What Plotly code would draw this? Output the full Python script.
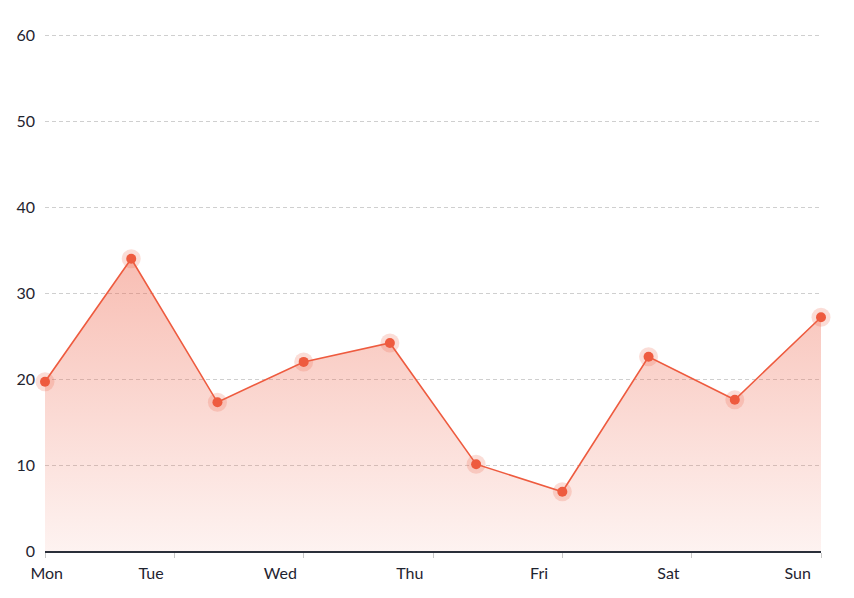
import plotly.graph_objects as go

# data
x_idx = [0, 1, 2, 3, 4, 5, 6, 7, 8, 9]
values = [19.7, 34.0, 17.3, 22.0, 24.2, 10.1, 6.9, 22.6, 17.6, 27.2]
day_labels = ["Mon", "Tue", "Wed", "Thu", "Fri", "Sat", "Sun"]
y_ticks = [0, 10, 20, 30, 40, 50, 60]

LINE = "#EE5B3F"
FONT = "Lato"
TXT = "#1f2430"

n_lab = len(day_labels)
span = x_idx[-1] - x_idx[0]
tick_pos = [x_idx[0] + span * k / (n_lab - 1) for k in range(n_lab)]
shift = 0.27 * span / 9
label_pos = [max(x_idx[0] + 0.02, t - shift) for t in tick_pos]

fig = go.Figure()
fig.add_trace(go.Scatter(
    x=x_idx, y=values, mode="lines", line=dict(color=LINE, width=1.6),
    fill="tozeroy",
    fillgradient=dict(type="vertical", start=0, stop=max(values),
                      colorscale=[[0, "rgba(238,100,75,0.08)"], [1, "rgba(238,100,75,0.42)"]]),
    cliponaxis=False, hoverinfo="skip", showlegend=False))
fig.add_trace(go.Scatter(
    x=x_idx, y=values, mode="markers",
    marker=dict(size=19, color="rgba(238,100,75,0.22)", line=dict(width=0)),
    cliponaxis=False, hoverinfo="skip", showlegend=False))
fig.add_trace(go.Scatter(
    x=x_idx, y=values, mode="markers",
    marker=dict(size=10, color=LINE, line=dict(width=0)),
    cliponaxis=False, showlegend=False))
# invisible trace on the label axis
fig.add_trace(go.Scatter(x=[x_idx[0]], y=[0], xaxis="x2", mode="markers",
                         marker=dict(opacity=0), hoverinfo="skip", showlegend=False))

fig.update_layout(
    width=854, height=598,
    margin=dict(l=37, r=41, t=26, b=55),
    paper_bgcolor="white", plot_bgcolor="white",
    font=dict(family=FONT, size=16, color=TXT),
    xaxis=dict(range=[x_idx[0], x_idx[-1]], tickvals=tick_pos, ticktext=[""] * n_lab,
               ticks="outside", ticklen=5, tickcolor="#c8c8c8", tickwidth=1,
               showgrid=False, zeroline=False, automargin=False,
               showline=True, linecolor="#2a2f3a", linewidth=2),
    xaxis2=dict(overlaying="x", matches="x", anchor="y", side="bottom",
                tickvals=label_pos, ticktext=day_labels, ticks="",
                showgrid=False, zeroline=False, showline=False, automargin=False,
                ticklabelstandoff=11, tickfont=dict(family=FONT, size=16, color=TXT)),
    yaxis=dict(range=[0, 60.15], tickvals=y_ticks, ticks="", showline=False,
               showgrid=True, gridcolor="#cfcfcf", griddash="4px,3px", gridwidth=1,
               zeroline=False, ticklabelstandoff=9, automargin=False,
               tickfont=dict(family=FONT, size=16, color=TXT)),
)

fig.write_html("out.html")
